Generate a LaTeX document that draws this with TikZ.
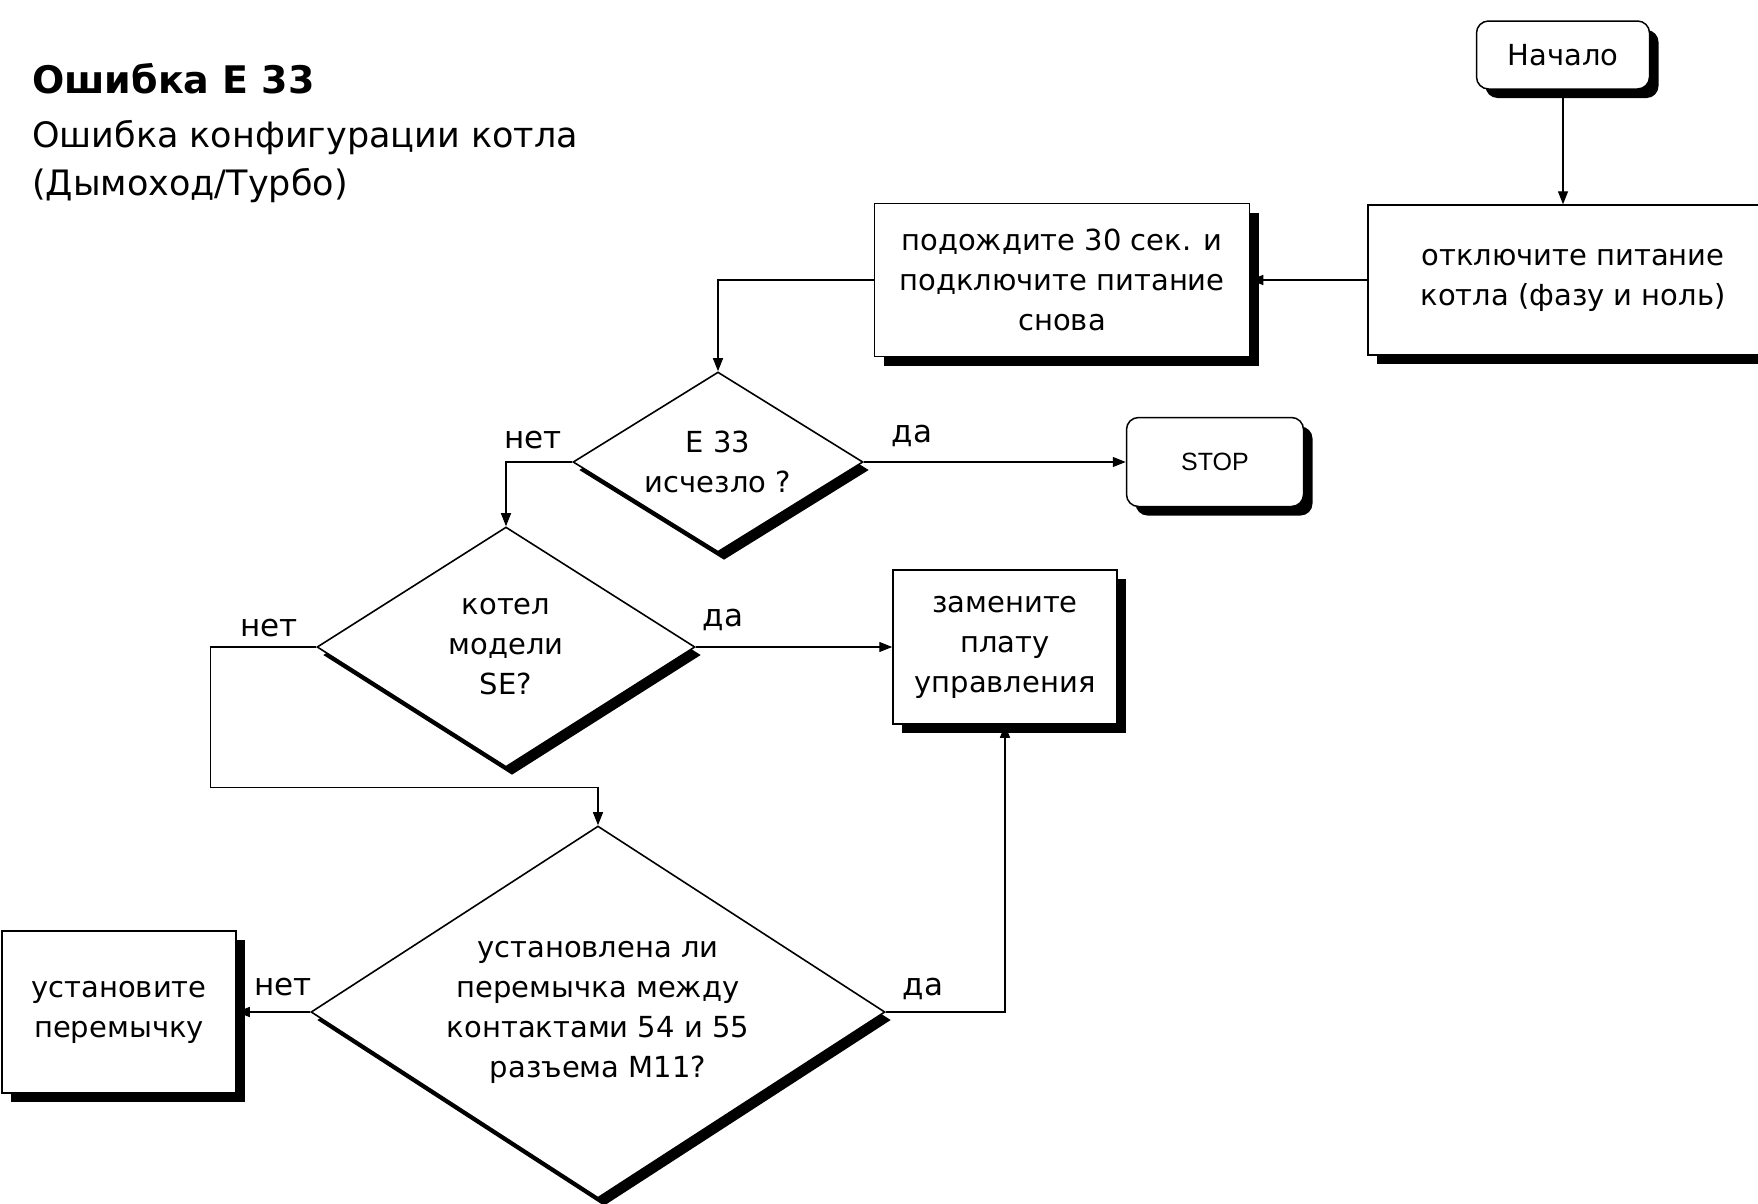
\documentclass[tikz,border=0pt]{standalone}
\usepackage{fontspec}
\setmainfont{DejaVu Sans}
\newfontfamily\stopfont{Liberation Sans}
\usetikzlibrary{arrows.meta,shapes.geometric,shadows,calc}
\begin{document}
\begin{tikzpicture}[x=1pt,y=-1pt,
  txt/.style={font=\fontsize{29}{40}\selectfont, align=center},
  boxshadow/.style={drop shadow={shadow xshift=9pt, shadow yshift=-9pt, fill=black, opacity=1}},
  box/.style={txt, draw, line width=1.5pt, fill=white, boxshadow, inner sep=0pt},
  rbox/.style={box, rounded corners=12pt},
  dec/.style={txt, shape=diamond, draw, line width=1.6pt, fill=white, inner sep=0pt,
    drop shadow={shadow xshift=6pt, shadow yshift=-8pt, fill=black, opacity=1}},
  lbl/.style={font=\fontsize{31}{36}\selectfont, inner sep=0pt},
  arr/.style={line width=1.3pt, -{Triangle[length=13pt,width=10pt]}},
]
\useasboundingbox (0,0) rectangle (1758,1203);
\clip (0,0) rectangle (1758,1203);
\fill[white] (0,0) rectangle (1758,1203);

% title
\node[anchor=base west, font=\bfseries\fontsize{38}{40}\selectfont, inner sep=0pt] (title) at (32,93) {Ошибка E 33};
\node[anchor=base west, font=\fontsize{35}{40}\selectfont, inner sep=0pt] (sub1) at (32,147) {Ошибка конфигурации котла};
\node[anchor=base west, font=\fontsize{35}{40}\selectfont, inner sep=0pt] (sub2) at (32,195) {(Дымоход/Турбо)};

% nodes
\node[rbox, minimum width=173pt, minimum height=68pt] (start) at (1563,55) {Начало};
\node[box, minimum width=410pt, minimum height=150pt] (off) at (1573,280) {отключите питание\\котла (фазу и ноль)};
\node[box, minimum width=375pt, minimum height=153pt] (wait) at (1062,280) {подождите 30 сек. и\\подключите питание\\снова};
\node[dec, minimum width=290pt, minimum height=180pt, aspect=1.61] (q1) at (718,462) {E 33\\исчезло ?};
\node[rbox, minimum width=177pt, minimum height=89pt, font=\stopfont\fontsize{25}{30}\selectfont] (stop) at (1215,462) {STOP};
\node[dec, minimum width=378pt, minimum height=240pt, aspect=1.575] (q2) at (506,647) {котел\\модели\\SE?};
\node[box, minimum width=224pt, minimum height=154pt] (repl) at (1005,647) {замените\\плату\\управления};
\node[dec, minimum width=574pt, minimum height=372pt, aspect=1.543] (q3) at (598,1012) {установлена ли\\перемычка между\\контактами 54 и 55\\разъема M11?};
\node[box, minimum width=234pt, minimum height=162pt] (jmp) at (119,1012) {установите\\перемычку};

% labels
\node[lbl] (n1) at (533,440) {нет};
\node[lbl] (y1) at (912,436) {да};
\node[lbl] (n2) at (269,628) {нет};
\node[lbl] (y2) at (723,620) {да};
\node[lbl] (n3) at (283,987) {нет};
\node[lbl] (y3) at (923,989) {да};

% connectors
\draw[arr] (start.south) -- (start.south |- off.north);
\draw[arr] (off.west) -- (wait.east);
\draw[arr] (wait.west) -| (q1.north);
\draw[arr] (q1.east) -- (stop.west);
\draw[arr] (q1.west) -| (q2.north);
\draw[arr] (q2.east) -- (repl.west);
\draw[arr] (q2.west) -- ++(-106,0) |- ($(q3.north)+(0,-38)$) -- (q3.north);
\draw[arr] (q3.west) -- (jmp.east);
\draw[arr] (q3.east) -| (repl.south);
\end{tikzpicture}
\end{document}
